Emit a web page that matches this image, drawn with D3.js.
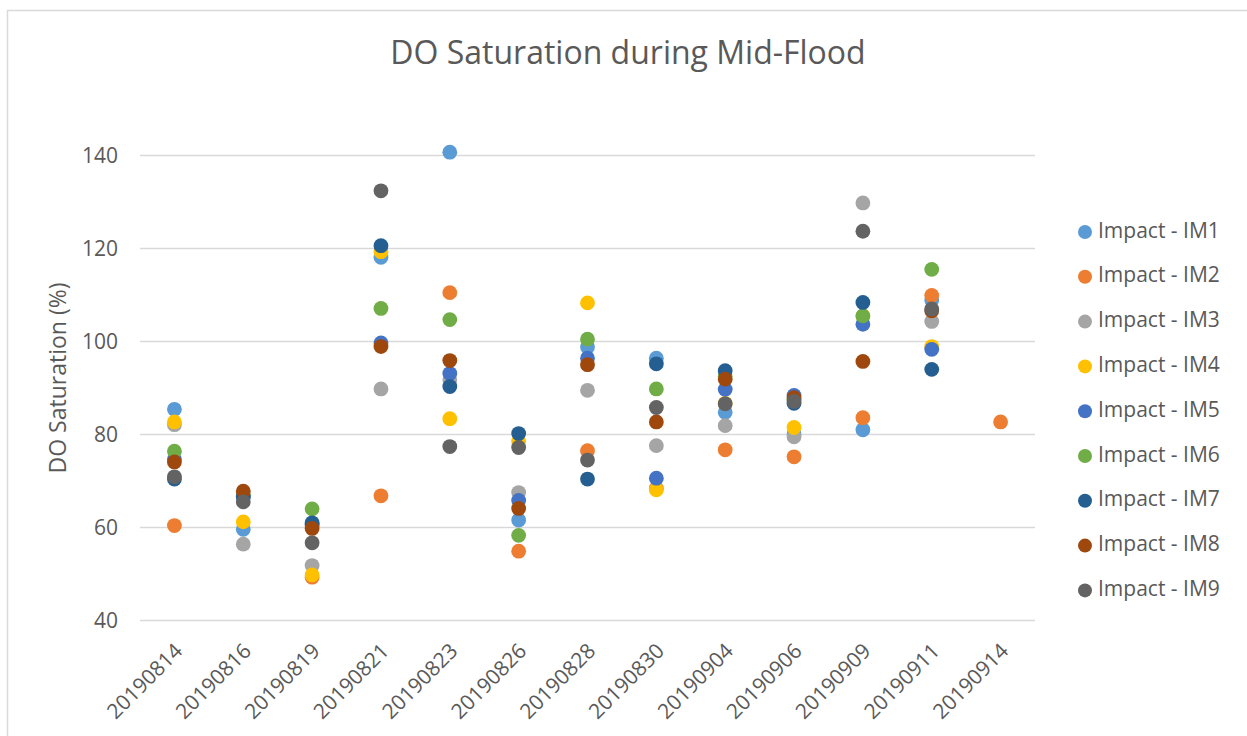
<!DOCTYPE html>
<html>
<head>
<meta charset="utf-8">
<script src="https://cdn.jsdelivr.net/npm/d3@7"></script>
<style>
  html, body { margin: 0; padding: 0; background: #fff; }
  svg { display: block; }
  text { font-family: "Open Sans", "Noto Sans", sans-serif; fill: #595959; }
</style>
</head>
<body>
<svg id="chart" width="1247" height="736"></svg>
<script>
// Sampling dates
const dates = ["20190814","20190816","20190819","20190821","20190823","20190826","20190828",
               "20190830","20190904","20190906","20190909","20190911","20190914"];

// Series names and colours
const seriesNames = ["Impact - IM1","Impact - IM2","Impact - IM3","Impact - IM4","Impact - IM5",
                     "Impact - IM6","Impact - IM7","Impact - IM8","Impact - IM9"];
const seriesColors = ["#5B9BD5","#ED7D31","#A5A5A5","#FFC000","#4472C4",
                      "#70AD47","#255E91","#9E480E","#636363"];

// DO saturation (%) per site, one value per date (null = no sample)
const im1 = [85.3, 59.5, 60.5, 118.0, 140.6, 61.5, 98.7, 96.3, 84.7, 80.0, 80.9, 108.8, null];
const im2 = [60.3, null, 49.2, 66.7, 110.4, 54.8, 76.4, 68.3, 76.6, 75.1, 83.5, 109.8, 82.6];
const im3 = [82.0, 56.3, 51.7, 89.7, 91.6, 67.4, 89.4, 77.5, 81.8, 79.4, 129.7, 104.2, null];
const im4 = [82.6, 61.1, 49.7, 119.2, 83.3, 78.4, 108.2, 68.0, 86.6, 81.4, 105.4, 98.8, null];
const im5 = [74.6, 66.5, 60.5, 99.6, 93.0, 65.7, 96.3, 70.5, 89.6, 88.3, 103.6, 98.2, null];
const im6 = [76.3, 66.8, 63.9, 107.0, 104.6, 58.2, 100.4, 89.7, 92.3, 87.5, 105.4, 115.4, null];
const im7 = [70.3, 66.5, 60.9, 120.5, 90.2, 80.1, 70.3, 95.1, 93.6, 86.6, 108.3, 93.9, null];
const im8 = [74.0, 67.7, 59.7, 98.8, 95.8, 64.0, 94.9, 82.6, 91.8, 87.8, 95.6, 106.5, null];
const im9 = [70.8, 65.4, 56.6, 132.3, 77.3, 77.1, 74.4, 85.7, 86.5, 87.0, 123.6, 106.9, null];
const seriesValues = [im1, im2, im3, im4, im5, im6, im7, im8, im9];

// Axis ticks
const yTicks = [40, 60, 80, 100, 120, 140];

const titleText = "DO Saturation during Mid-Flood";
const yTitle = "DO Saturation (%)";

const svg = d3.select("#chart");

// Chart frame
svg.append("rect")
  .attr("x", 7.5).attr("y", 10.5)
  .attr("width", 1300).attr("height", 800)
  .attr("fill", "none").attr("stroke", "#D9D9D9").attr("stroke-width", 1.5);

const plot = { left: 140, right: 1035, top: 155, bottom: 620 };

const x = d3.scaleBand().domain(dates).range([plot.left, plot.right]);
const y = d3.scaleLinear().domain([40, 140]).range([plot.bottom, plot.top]);

// Gridlines
svg.append("g")
  .selectAll("line")
  .data(yTicks)
  .join("line")
  .attr("x1", plot.left).attr("x2", plot.right)
  .attr("y1", d => Math.round(y(d)) + 0.5).attr("y2", d => Math.round(y(d)) + 0.5)
  .attr("stroke", "#D9D9D9").attr("stroke-width", 1.5);

// Y axis labels
const yAxis = d3.axisLeft(y).tickValues(yTicks).tickSize(0).tickPadding(0);
const gy = svg.append("g").attr("transform", `translate(118,0)`).call(yAxis);
gy.select(".domain").remove();
gy.selectAll("text")
  .style("font-size", "21px")
  .style("font-family", "\"Open Sans\", \"Noto Sans\", sans-serif")
  .attr("fill", "#595959")
  .attr("dy", "0.35em");

// X axis labels (rotated)
const xAxis = d3.axisBottom(x).tickSize(0).tickPadding(0);
const gx = svg.append("g").attr("transform", `translate(0,${plot.bottom})`).call(xAxis);
gx.select(".domain").remove();
gx.selectAll("text")
  .style("font-size", "21px")
  .style("font-family", "\"Open Sans\", \"Noto Sans\", sans-serif")
  .attr("fill", "#595959")
  .attr("text-anchor", "end")
  .attr("dy", "0.35em")
  .attr("transform", "translate(4,27) rotate(-45)");

// Points
const points = [];
seriesValues.forEach((vals, si) => {
  vals.forEach((v, di) => {
    if (v !== null) points.push({ s: si, d: dates[di], v });
  });
});
svg.append("g")
  .selectAll("circle")
  .data(points)
  .join("circle")
  .attr("cx", d => x(d.d) + x.bandwidth() / 2)
  .attr("cy", d => y(d.v))
  .attr("r", 7.4)
  .attr("fill", d => seriesColors[d.s]);

// Title
svg.append("text")
  .attr("x", 628).attr("y", 55)
  .attr("text-anchor", "middle")
  .attr("dominant-baseline", "middle")
  .style("font-size", "32px")
  .text(titleText);

// Y axis title
svg.append("text")
  .attr("transform", "translate(60,378) rotate(-90)")
  .attr("text-anchor", "middle")
  .attr("dominant-baseline", "middle")
  .style("font-size", "23px")
  .text(yTitle);

// Legend
const legend = svg.append("g").selectAll("g")
  .data(seriesNames)
  .join("g")
  .attr("transform", (d, i) => `translate(1085,${232 + i * 44.8})`);
legend.append("circle").attr("r", 7).attr("fill", (d, i) => seriesColors[i]);
legend.append("text")
  .attr("x", 13)
  .attr("dominant-baseline", "middle")
  .style("font-size", "21px")
  .text(d => d);
</script>
</body>
</html>
